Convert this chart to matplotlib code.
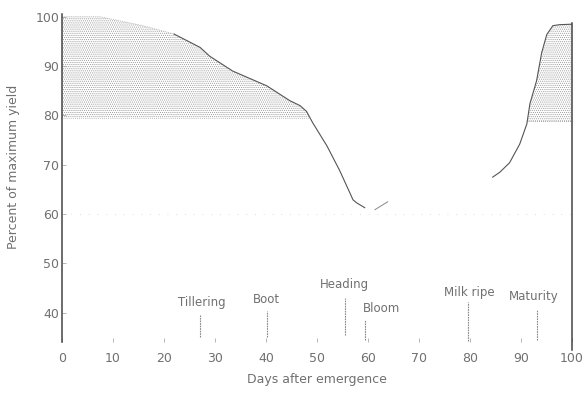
import matplotlib
matplotlib.use("Agg")
import matplotlib.pyplot as plt
import numpy as np

# yield curve (days after emergence, percent of maximum yield)
early_days = [0, 7.5, 15.9, 22, 27.1, 29, 33.5, 40.2, 44.7, 46.7, 48, 49.2, 52, 54.5, 57.1, 57.8, 59.4]
early_yield = [100, 100, 98.2, 96.5, 93.8, 92, 89, 86, 83, 82, 80.8, 78.5, 73.8, 68.8, 62.9, 62.3, 61.3]
mid_days = [61.4, 63.9]
mid_yield = [60.9, 62.5]
late_days = [84.5, 85.9, 87.8, 89.8, 91.2, 91.8, 93.1, 94.1, 95.1, 96.3, 97.6, 100]
late_yield = [67.5, 68.5, 70.4, 74.2, 78.3, 82.4, 87, 92.7, 96.4, 98.2, 98.4, 98.5]

floor_early = 79.5
floor_late = 78.8

stages = ["Tillering", "Boot", "Heading", "Bloom", "Milk ripe", "Maturity"]
stage_days = [27, 40.2, 55.5, 59.4, 79.6, 93.1]

# where the stage names sit (x centre, y) and the span of their marker lines
label_x = [27.5, 40.2, 55.5, 62.7, 80, 92.5]
label_y = [42.0, 42.6, 45.7, 40.8, 44.1, 43.2]
line_top = [39.6, 40.4, 43.0, 38.6, 42.2, 40.6]
line_bot = [35.1, 35.0, 35.5, 34.5, 34.2, 34.5]

x_ticks = list(range(0, 101, 10))
y_ticks = [40, 50, 60, 70, 80, 90, 100]

plt.rcParams['hatch.linewidth'] = 0.5
txt = '#707070'

fig = plt.figure(figsize=(5.84, 3.98), dpi=100)
ax = fig.add_axes([0.106, 0.141, 0.873, 0.823])

ed = np.array(early_days)
ey = np.array(early_yield)
ld = np.array(late_days)
ly = np.array(late_yield)

ax.fill_between(ed, floor_early, ey, where=ey >= floor_early, interpolate=True,
                facecolor='none', edgecolor='#9a9a9a', hatch='........', linewidth=0)
ax.fill_between(ld, floor_late, ly, where=ly >= floor_late, interpolate=True,
                facecolor='none', edgecolor='#9a9a9a', hatch='........', linewidth=0)

# top edge is only stipple at first, then the drawn curve
ax.plot(ed[:4], ey[:4], color='#b0b0b0', lw=0.6, ls=(0, (1, 1.2)))
ax.plot(ed[3:], ey[3:], color='#555555', lw=0.8)
ax.plot(mid_days, mid_yield, color='#888888', lw=0.7)
ax.plot(ld, ly, color='#555555', lw=0.8)

# faint bottom edge of the shaded blocks
ax.plot([0, 48.6], [floor_early, floor_early], color='#aaaaaa', lw=0.6, ls=(0, (1, 1.5)))
ax.plot([91.1, 100], [floor_late, floor_late], color='#888888', lw=0.6, ls=(0, (1, 1.5)))

ax.axhline(60, color='#dddddd', lw=0.7, ls=(0, (1, 8)))

# line on the right edge
ax.plot([100, 100], [32.5, 98.8], color='#444444', lw=1.1, clip_on=False)

for name, d, tx, ty, top, bot in zip(stages, stage_days, label_x, label_y, line_top, line_bot):
    ax.plot([d, d], [bot, top], color='#888888', lw=0.8, ls=(0, (1.5, 0.8)))
    ax.text(tx, ty, name, ha='center', va='center', fontsize=8.5, color=txt)

ax.set_xlim(0, 100)
ax.set_ylim(34.1, 100.5)
ax.set_xticks(x_ticks)
ax.set_yticks(y_ticks)
ax.tick_params(direction='in', length=3, width=0.6, colors='#aaaaaa',
               labelcolor=txt, labelsize=9)
ax.tick_params(axis='x', pad=7)
ax.tick_params(axis='y', pad=2)

for s in ['top', 'right', 'bottom']:
    ax.spines[s].set_visible(False)
ax.spines['left'].set_color('#444444')
ax.spines['left'].set_linewidth(1.1)

ax.set_xlabel('Days after emergence', fontsize=9, color=txt, labelpad=6)
ax.set_ylabel('Percent of maximum yield', fontsize=9, color=txt)
ax.yaxis.set_label_coords(-0.082, 0.534)

fig.savefig('out.png', dpi=100)
